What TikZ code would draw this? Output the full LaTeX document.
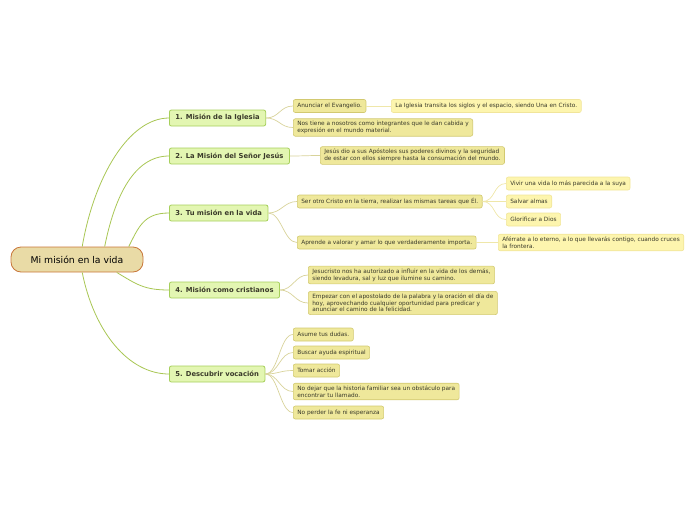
\documentclass[tikz,border=0pt]{standalone}
\usepackage{fontspec}
\setmainfont{DejaVu Sans}
\definecolor{rootfill}{HTML}{E9DBA6}
\definecolor{rootline}{HTML}{C8763A}
\definecolor{topicfill}{HTML}{E3F6B2}
\definecolor{topicline}{HTML}{A6CF5B}
\definecolor{subfill}{HTML}{EFE89B}
\definecolor{subline}{HTML}{D2C970}
\definecolor{leaffill}{HTML}{FDF5AE}
\definecolor{leafline}{HTML}{F1E59A}
\definecolor{trunkline}{HTML}{A8C653}
\definecolor{twigline}{HTML}{D8D39A}
\definecolor{tipline}{HTML}{EFE7A9}
\definecolor{textdark}{HTML}{3A3A2A}
\begin{document}
\begin{tikzpicture}[x=1pt, y=-1pt,
  every node/.style={font=\fontsize{5.8}{6.6}\selectfont, text=textdark},
  root/.style={draw=rootline, fill=rootfill, line width=0.8pt, rounded corners=10pt,
    minimum width=132pt, minimum height=25pt, text=black, font=\fontsize{9.3}{11}\selectfont},
  topic/.style={draw=topicline, fill=topicfill, line width=0.8pt, rounded corners=2pt,
    anchor=west, minimum height=16pt, inner xsep=6pt, font=\bfseries\fontsize{6.8}{8}\selectfont},
  sub/.style={draw=subline, fill=subfill, line width=0.6pt, rounded corners=2pt,
    anchor=west, minimum height=13pt, inner xsep=4pt, inner ysep=2.6pt, align=left},
  leaf/.style={sub, draw=leafline, fill=leaffill},
  trunk/.style={draw=trunkline, line width=0.8pt},
  twig/.style={draw=twigline, line width=0.7pt},
  tip/.style={draw=tipline, line width=0.7pt},
  branch/.style={to path={.. controls +(13,0) and +(-13,0) .. (\tikztotarget)}}]
  \useasboundingbox (0,0) rectangle (696,520);

  % main topic
  \node[root] (root) at (77,259.5) {Mi misión en la vida};

  % first level
  \node[topic] (t1) at (169,118) {1. Misión de la Iglesia};
  \node[topic] (t2) at (169,156) {2. La Misión del Señor Jesús};
  \node[topic] (t3) at (169,213) {3. Tu misión en la vida};
  \node[topic] (t4) at (169,290) {4. Misión como cristianos};
  \node[topic] (t5) at (169,374) {5. Descubrir vocación};

  \draw[trunk] (root.68) .. controls +(12,-70) and +(-40,0) .. (t1.west);
  \draw[trunk] (root.25) .. controls +(10,-50) and +(-35,0) .. (t2.west);
  \draw[trunk] (root.14) .. controls +(10,-20) and +(-25,0) .. (t3.west);
  \draw[trunk] (root.-18) .. controls +(20,12) and +(-25,0) .. (t4.west);
  \draw[trunk] (root.-68) .. controls +(12,60) and +(-40,0) .. (t5.west);

  % 1. Misión de la Iglesia
  \node[sub] (s1a) at (293,106) {Anunciar el Evangelio.};
  \node[sub] (s1b) at (293,127.5) {Nos tiene a nosotros como integrantes que le dan cabida y\\expresión en el mundo material.};
  \node[leaf] (s1a1) at (391,106) {La Iglesia transita los siglos y el espacio, siendo Una en Cristo.};
  \draw[twig] (t1.east) to[branch] (s1a.west);
  \draw[twig] (t1.east) to[branch] (s1b.west);
  \draw[tip] (s1a.east) -- (s1a1.west);

  % 2. La Misión del Señor Jesús
  \node[sub] (s2a) at (320,155.5) {Jesús dio a sus Apóstoles sus poderes divinos y la seguridad\\de estar con ellos siempre hasta la consumación del mundo.};
  \draw[twig] (t2.east) to[branch] (s2a.west);

  % 3. Tu misión en la vida
  \node[sub] (s3a) at (297,201.5) {Ser otro Cristo en la tierra, realizar las mismas tareas que Él.};
  \node[sub] (s3b) at (297,242.5) {Aprende a valorar y amar lo que verdaderamente importa.};
  \node[leaf] (s3a1) at (506,183.5) {Vivir una vida lo más parecida a la suya};
  \node[leaf] (s3a2) at (506,201.5) {Salvar almas};
  \node[leaf] (s3a3) at (506,219.5) {Glorificar a Dios};
  \node[leaf] (s3b1) at (498,242.5) {Aférrate a lo eterno, a lo que llevarás contigo, cuando cruces\\la frontera.};
  \draw[twig] (t3.east) to[branch] (s3a.west);
  \draw[twig] (t3.east) to[branch] (s3b.west);
  \foreach \n in {1,2,3}
    \draw[tip] (s3a.east) to[branch] (s3a\n.west);
  \draw[tip] (s3b.east) -- (s3b1.west);

  % 4. Misión como cristianos
  \node[sub] (s4a) at (308,275) {Jesucristo nos ha autorizado a influir en la vida de los demás,\\siendo levadura, sal y luz que ilumine su camino.};
  \node[sub] (s4b) at (308,303) {Empezar con el apostolado de la palabra y la oración el día de\\hoy, aprovechando cualquier oportunidad para predicar y\\anunciar el camino de la felicidad.};
  \draw[twig] (t4.east) to[branch] (s4a.west);
  \draw[twig] (t4.east) to[branch] (s4b.west);

  % 5. Descubrir vocación
  \node[sub] (s5a) at (293,334.5) {Asume tus dudas.};
  \node[sub] (s5b) at (293,352.5) {Buscar ayuda espiritual};
  \node[sub] (s5c) at (293,370.5) {Tomar acción};
  \node[sub] (s5d) at (293,391.5) {No dejar que la historia familiar sea un obstáculo para\\encontrar tu llamado.};
  \node[sub] (s5e) at (293,412.5) {No perder la fe ni esperanza};
  \foreach \n in {a,b,c,d,e}
    \draw[twig] (t5.east) to[branch] (s5\n.west);
\end{tikzpicture}
\end{document}
